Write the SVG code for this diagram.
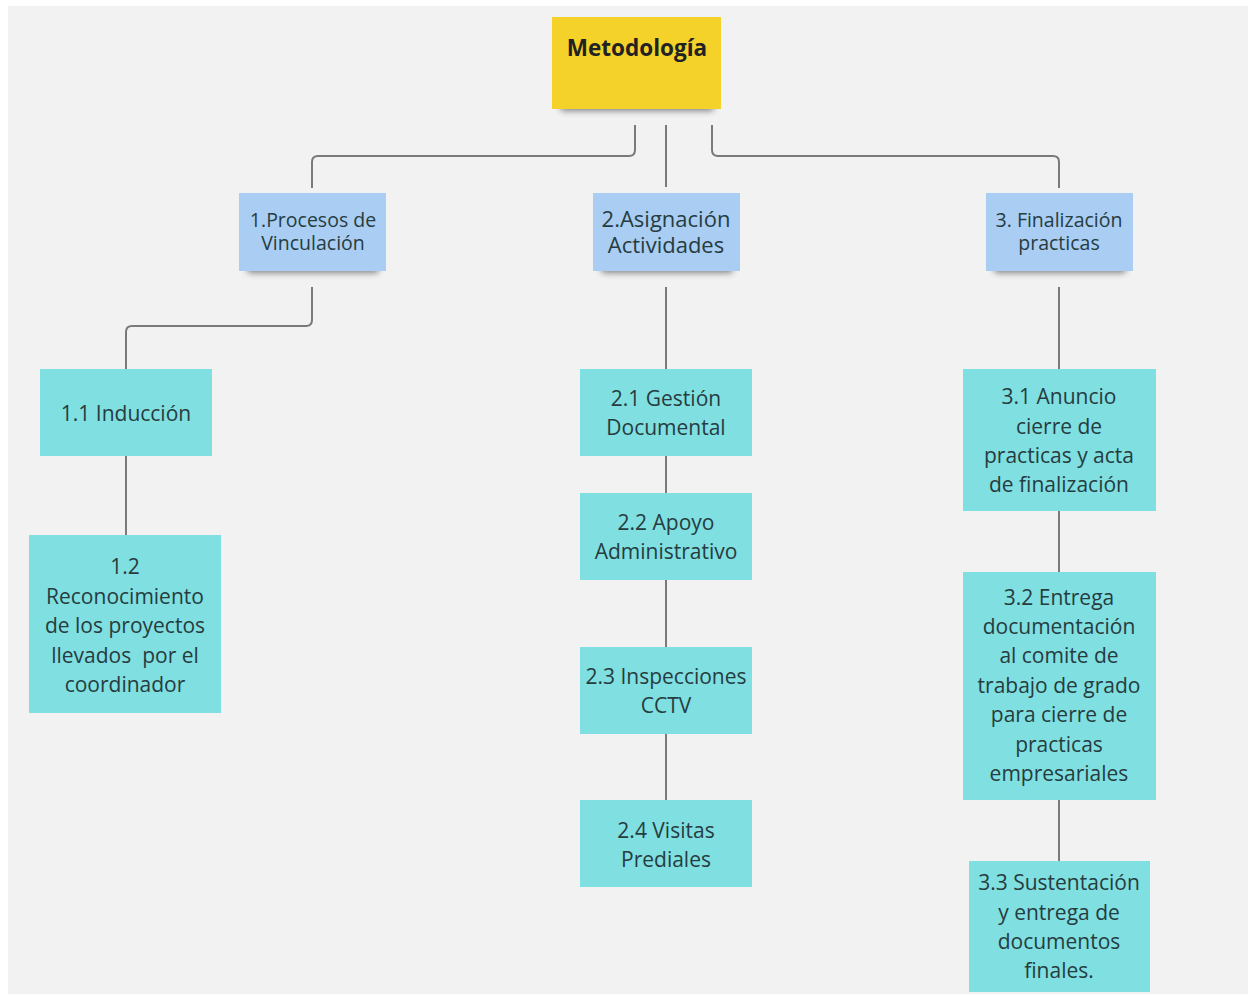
<svg xmlns="http://www.w3.org/2000/svg" width="1252" height="996" viewBox="0 0 1252 996">
<defs>
<style>
.t{font-family:"Open Sans","Noto Sans","Liberation Sans",sans-serif;fill:#263c3f;text-anchor:middle}
.teal{fill:#80dfe0}
.blue{fill:#a9cdf3}
.c{fill:none;stroke:#7a7a7a;stroke-width:2}
.sh{fill:#3a3a3a;opacity:0.6}
</style>
<filter id="sh" x="-20%" y="-100%" width="140%" height="300%"><feGaussianBlur stdDeviation="3"/></filter>
</defs>
<rect width="1252" height="996" fill="#ffffff"/>
<rect x="8" y="6" width="1240" height="988" fill="#f2f2f2"/>
<g id="connectors">
<path class="c" d="M635,125 V150 Q635,156 629,156 H318 Q312,156 312,162 V188"/>
<path class="c" d="M666,125 V187"/>
<path class="c" d="M712,125 V150 Q712,156 718,156 H1053 Q1059,156 1059,162 V188"/>
<path class="c" d="M312,287 V320 Q312,326 306,326 H132 Q126,326 126,332 V369"/>
<path class="c" d="M126,456 V535"/>
<path class="c" d="M666,287 V369 M666,456 V493 M666,580 V647 M666,734 V800"/>
<path class="c" d="M1059,287 V369 M1059,511 V572 M1059,800 V861"/>
</g>
<g id="metodologia">
<rect x="560" y="101" width="154" height="10" rx="4" class="sh" filter="url(#sh)"/>
<rect x="552" y="17" width="169" height="92" fill="#f4d22a"/>
<text class="t" x="637" y="56" font-size="22.5" font-weight="bold" style="fill:#222">Metodología</text>
</g>
<g id="n1">
<rect x="247" y="263" width="132" height="10" rx="4" class="sh" filter="url(#sh)"/>
<rect x="239" y="193" width="147" height="78" class="blue"/>
<text class="t" font-size="19.5"><tspan x="313" y="227">1.Procesos de</tspan><tspan x="313" y="250">Vinculación</tspan></text>
</g>
<g id="n2">
<rect x="601" y="263" width="132" height="10" rx="4" class="sh" filter="url(#sh)"/>
<rect x="593" y="193" width="147" height="78" class="blue"/>
<text class="t" font-size="22"><tspan x="666" y="227">2.Asignación</tspan><tspan x="666" y="253">Actividades</tspan></text>
</g>
<g id="n3">
<rect x="994" y="263" width="132" height="10" rx="4" class="sh" filter="url(#sh)"/>
<rect x="986" y="193" width="147" height="78" class="blue"/>
<text class="t" font-size="19.5"><tspan x="1059" y="227">3. Finalización</tspan><tspan x="1059" y="250">practicas</tspan></text>
</g>
<g id="n11">
<rect x="40" y="369" width="172" height="87" class="teal"/>
<text class="t" font-size="21" x="126" y="421">1.1 Inducción</text>
</g>
<g id="n12">
<rect x="29" y="535" width="192" height="178" class="teal"/>
<text class="t" font-size="21"><tspan x="125" y="574">1.2</tspan><tspan x="125" y="603.5">Reconocimiento</tspan><tspan x="125" y="633">de los proyectos</tspan><tspan x="125" y="662.5" style="white-space:pre">llevados  por el</tspan><tspan x="125" y="692">coordinador</tspan></text>
</g>
<g id="n21">
<rect x="580" y="369" width="172" height="87" class="teal"/>
<text class="t" font-size="21"><tspan x="666" y="406">2.1 Gestión</tspan><tspan x="666" y="435">Documental</tspan></text>
</g>
<g id="n22">
<rect x="580" y="493" width="172" height="87" class="teal"/>
<text class="t" font-size="21"><tspan x="666" y="530">2.2 Apoyo</tspan><tspan x="666" y="559">Administrativo</tspan></text>
</g>
<g id="n23">
<rect x="580" y="647" width="172" height="87" class="teal"/>
<text class="t" font-size="21"><tspan x="666" y="684">2.3 Inspecciones</tspan><tspan x="666" y="713">CCTV</tspan></text>
</g>
<g id="n24">
<rect x="580" y="800" width="172" height="87" class="teal"/>
<text class="t" font-size="21"><tspan x="666" y="838">2.4 Visitas</tspan><tspan x="666" y="867">Prediales</tspan></text>
</g>
<g id="n31">
<rect x="963" y="369" width="193" height="142" class="teal"/>
<text class="t" font-size="21"><tspan x="1059" y="404">3.1 Anuncio</tspan><tspan x="1059" y="434">cierre de</tspan><tspan x="1059" y="463">practicas y acta</tspan><tspan x="1059" y="492">de finalización</tspan></text>
</g>
<g id="n32">
<rect x="963" y="572" width="193" height="228" class="teal"/>
<text class="t" font-size="21"><tspan x="1059" y="605">3.2 Entrega</tspan><tspan x="1059" y="634">documentación</tspan><tspan x="1059" y="663">al comite de</tspan><tspan x="1059" y="693">trabajo de grado</tspan><tspan x="1059" y="722">para cierre de</tspan><tspan x="1059" y="752">practicas</tspan><tspan x="1059" y="781">empresariales</tspan></text>
</g>
<g id="n33">
<rect x="969" y="861" width="181" height="131" class="teal"/>
<text class="t" font-size="21"><tspan x="1059" y="890">3.3 Sustentación</tspan><tspan x="1059" y="920">y entrega de</tspan><tspan x="1059" y="949">documentos</tspan><tspan x="1059" y="978">finales.</tspan></text>
</g>
</svg>
